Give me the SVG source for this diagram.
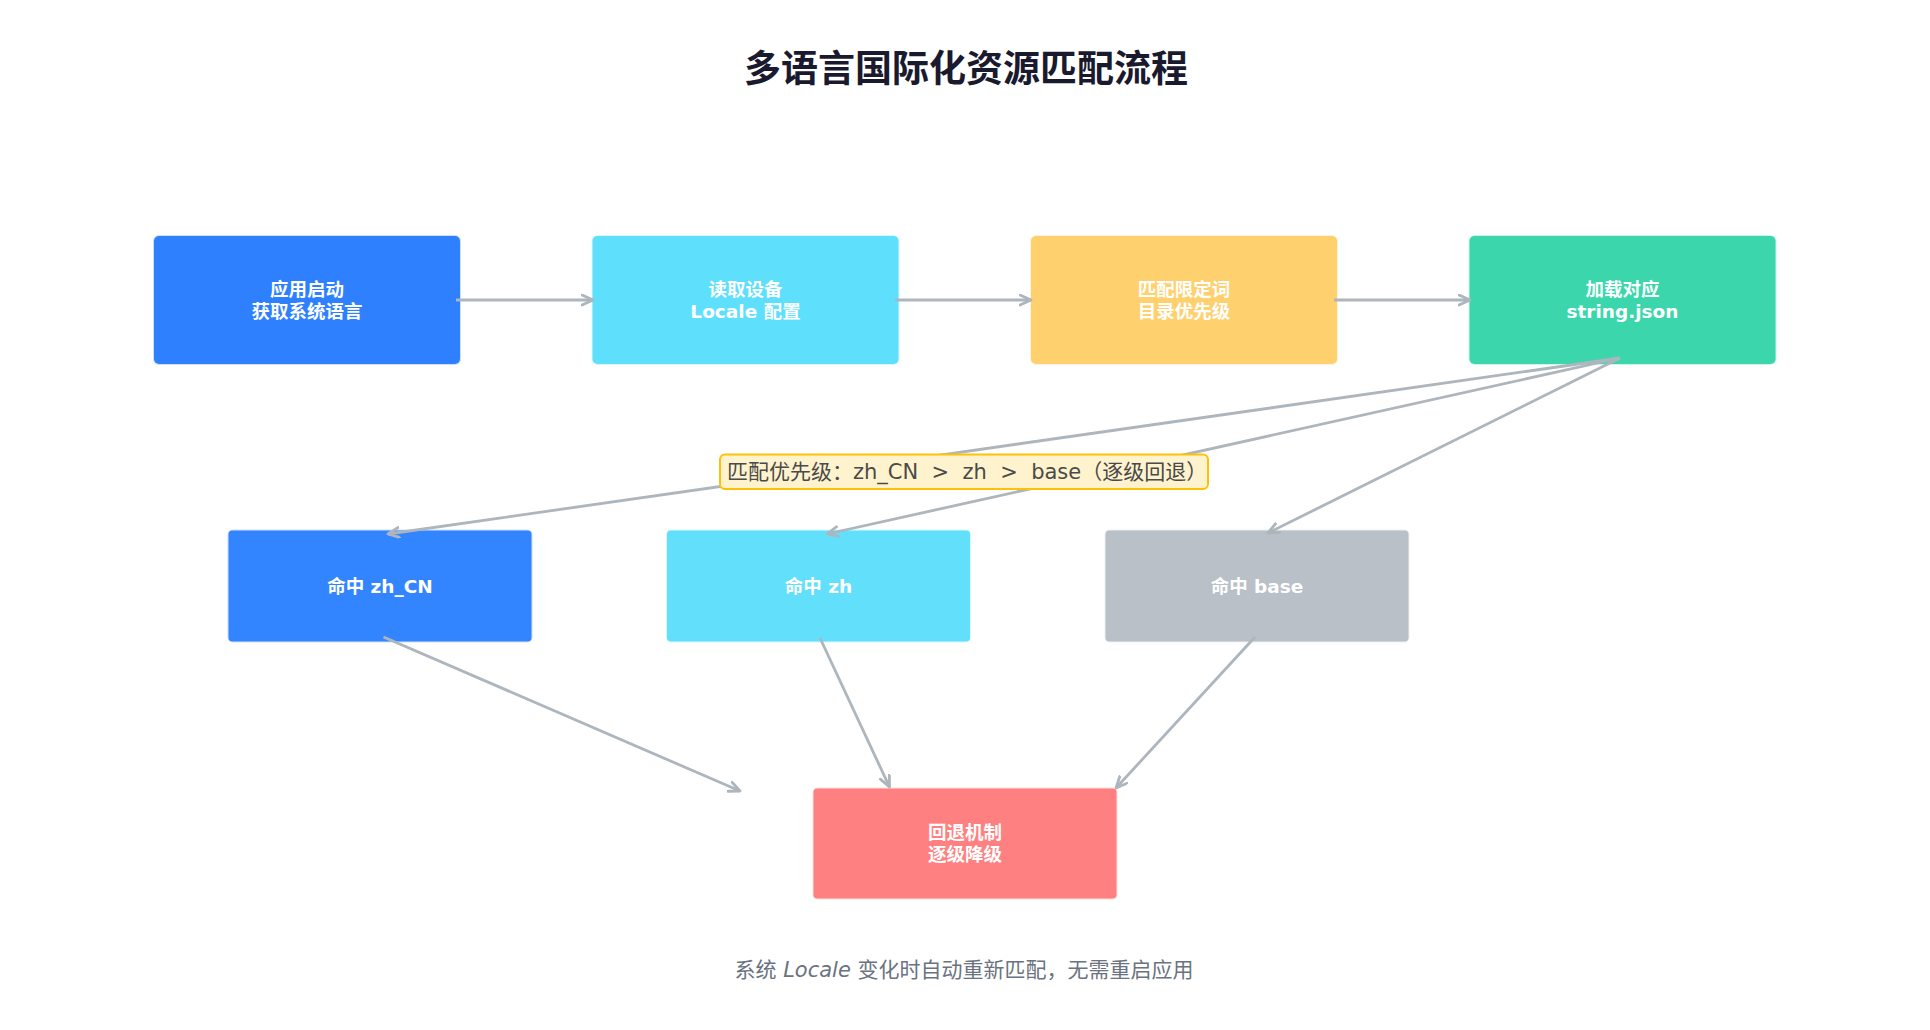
<svg xmlns="http://www.w3.org/2000/svg" width="1930" height="1030" viewBox="0 0 1930 1030">
  <defs>
    <marker id="arr" markerUnits="userSpaceOnUse" markerWidth="14" markerHeight="14" refX="12" refY="6" orient="auto">
      <path d="M1,1 L12,6 L1,11" fill="none" stroke="#adb5bd" stroke-width="2.8" stroke-linecap="round" stroke-linejoin="round"/>
    </marker>
  </defs>
  <style>
    .bg { fill: #ffffff; }
    .title { font-family: "DejaVu Sans", "Noto Sans CJK SC", sans-serif; font-size: 37px; font-weight: bold; fill: #1a1a2e; text-anchor: middle; }
    .node rect { stroke-width: 2; stroke-opacity: 0.25; }
    .lbl { font-family: "DejaVu Sans", "Noto Sans CJK SC", sans-serif; font-size: 18.5px; font-weight: bold; fill: #ffffff; text-anchor: middle; dominant-baseline: central; }
    .edge { stroke: #adb5bd; stroke-width: 2.8; fill: none; marker-end: url(#arr); }
    .note rect { fill: #fff3cd; stroke: #ffc107; stroke-width: 2; }
    .note text { font-family: "DejaVu Sans", "Noto Sans CJK SC", sans-serif; font-size: 21px; fill: #4a4a4a; dominant-baseline: central; }
    .caption { font-family: "DejaVu Sans", "Noto Sans CJK SC", sans-serif; font-size: 21px; fill: #6b7280; text-anchor: middle; }
  </style>
  <rect class="bg" x="0" y="0" width="1930" height="1030"/>

  <text class="title" x="966" y="82">多语言国际化资源匹配流程</text>

  <g id="n-start" class="node">
    <rect x="154" y="236" width="306" height="128" rx="5" fill="#2e80ff" stroke="#2e80ff"/>
    <text class="lbl" x="307" y="289">应用启动</text>
    <text class="lbl" x="307" y="311">获取系统语言</text>
  </g>
  <g id="n-read" class="node">
    <rect x="592.5" y="236" width="306" height="128" rx="5" fill="#5ee0fc" stroke="#5ee0fc"/>
    <text class="lbl" x="745.5" y="289">读取设备</text>
    <text class="lbl" x="745.5" y="311">Locale 配置</text>
  </g>
  <g id="n-match" class="node">
    <rect x="1031" y="236" width="306" height="128" rx="5" fill="#ffd06e" stroke="#ffd06e"/>
    <text class="lbl" x="1184" y="289">匹配限定词</text>
    <text class="lbl" x="1184" y="311">目录优先级</text>
  </g>
  <g id="n-load" class="node">
    <rect x="1469.5" y="236" width="306" height="128" rx="5" fill="#3bd6ab" stroke="#3bd6ab"/>
    <text class="lbl" x="1622.5" y="289">加载对应</text>
    <text class="lbl" x="1622.5" y="311">string.json</text>
  </g>

  <g id="n-zhcn" class="node">
    <rect x="228.5" y="530.5" width="303" height="111" rx="4" fill="#3385ff" stroke="#3385ff"/>
    <text class="lbl" x="380" y="586">命中 zh_CN</text>
  </g>
  <g id="n-zh" class="node">
    <rect x="667" y="530.5" width="303" height="111" rx="4" fill="#62e0fb" stroke="#62e0fb"/>
    <text class="lbl" x="818.5" y="586">命中 zh</text>
  </g>
  <g id="n-base" class="node">
    <rect x="1105.5" y="530.5" width="303" height="111" rx="4" fill="#b9c0c8" stroke="#b9c0c8"/>
    <text class="lbl" x="1257" y="586">命中 base</text>
  </g>

  <g id="n-fallback" class="node">
    <rect x="813.5" y="788.5" width="303" height="110" rx="4" fill="#ff8080" stroke="#ff8080"/>
    <text class="lbl" x="965" y="832.5">回退机制</text>
    <text class="lbl" x="965" y="854.5">逐级降级</text>
  </g>

  <g id="connectors">
    <line class="edge" x1="456" y1="300" x2="593" y2="300"/>
    <line class="edge" x1="895" y1="300" x2="1031" y2="300"/>
    <line class="edge" x1="1334" y1="300" x2="1470" y2="300"/>
    <line class="edge" x1="1620" y1="358" x2="388" y2="534"/>
    <line class="edge" x1="1620" y1="358" x2="827" y2="534"/>
    <line class="edge" x1="1620" y1="358" x2="1268" y2="533"/>
    <line class="edge" x1="383.5" y1="637" x2="740" y2="791"/>
    <line class="edge" x1="820" y1="638" x2="889.5" y2="787"/>
    <line class="edge" x1="1255" y1="637" x2="1116" y2="788"/>
  </g>

  <g id="note" class="note">
    <rect x="720" y="454.5" width="488" height="34.5" rx="5"/>
    <text x="727" y="472" xml:space="preserve">匹配优先级：zh_CN  &gt;  zh  &gt;  base（逐级回退）</text>
  </g>

  <text class="caption" x="964" y="977">系统 <tspan font-style="italic">Locale</tspan> 变化时自动重新匹配，无需重启应用</text>
</svg>
